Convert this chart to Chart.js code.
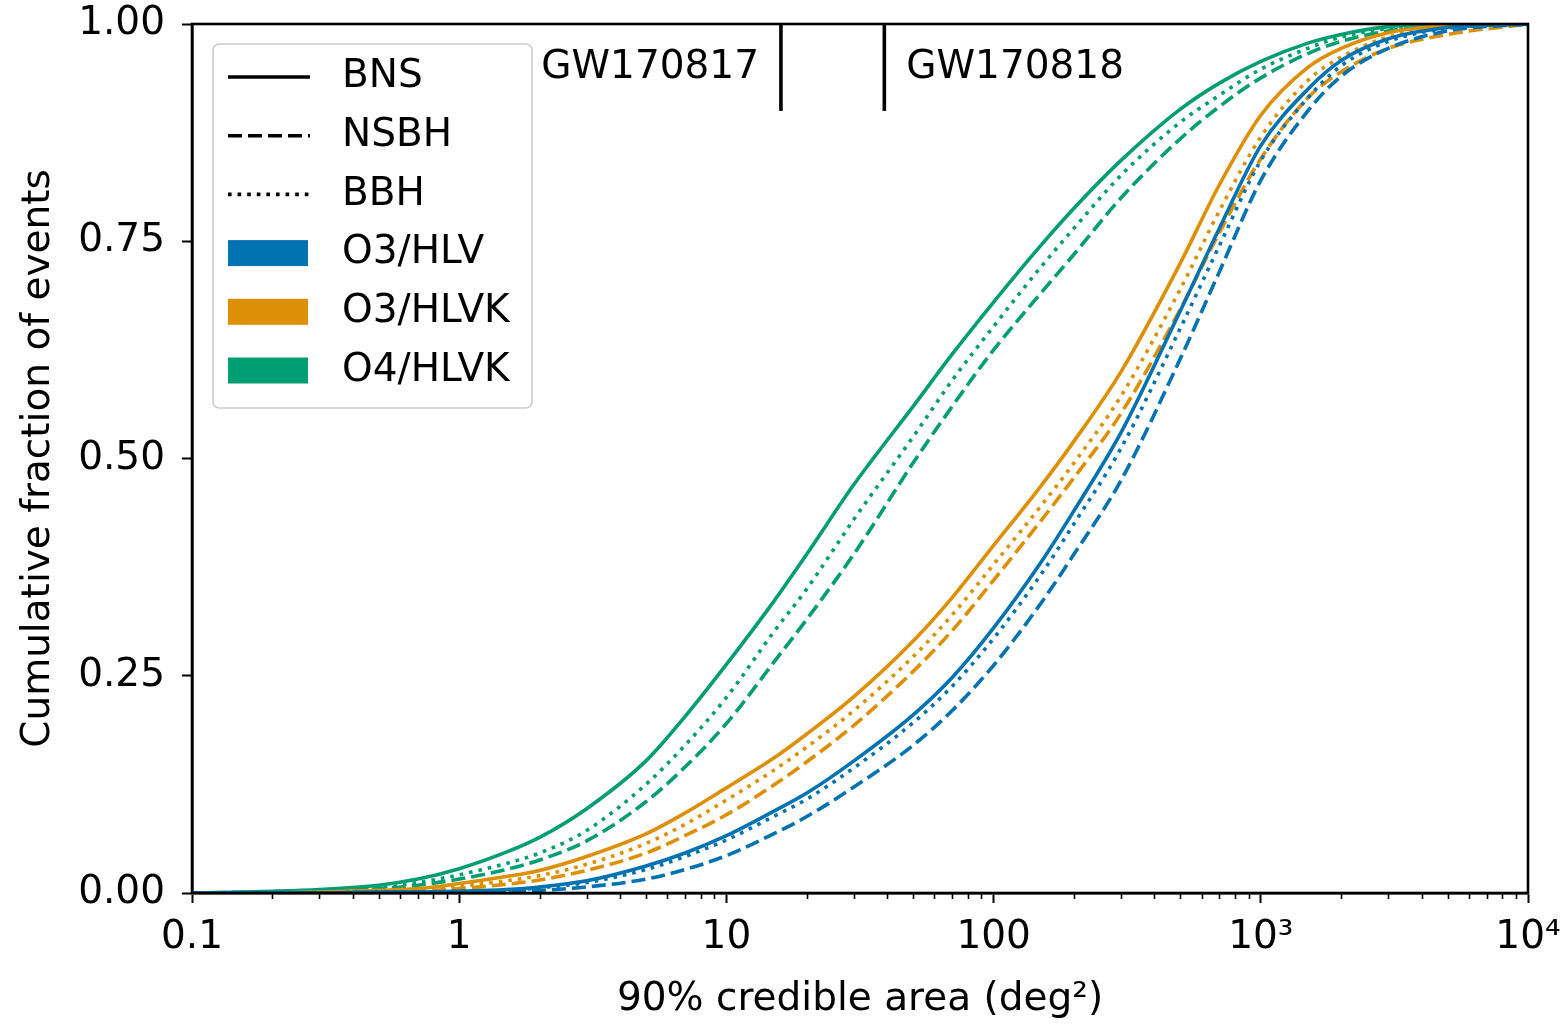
<!DOCTYPE html>
<html>
<head>
<meta charset="utf-8">
<script src="https://cdn.jsdelivr.net/npm/chart.js@4.4.1/dist/chart.umd.min.js"></script>
<style>
  html, body { margin: 0; padding: 0; background: #ffffff; }
  #wrap { width: 1562px; height: 1027px; }
</style>
</head>
<body>
<div id="wrap"><canvas id="c" width="1562" height="1027"></canvas></div>
<script>
// 90% credible area (deg²) sample points shared by every curve
const areas = [0.1, 0.2, 0.3, 0.5, 0.7, 1, 1.5, 2, 3, 5, 7, 10, 15, 20, 30, 50, 70, 100, 150, 200, 300, 500, 700, 1000, 1500, 2000, 3000, 5000, 10000];

// Cumulative fraction of events at each area
const o3hlvBNS   = [0, 0, 0, 0.001, 0.001, 0.002, 0.004, 0.007, 0.014, 0.031, 0.046, 0.066, 0.094, 0.115, 0.152, 0.205, 0.248, 0.305, 0.38, 0.44, 0.53, 0.67, 0.765, 0.86, 0.925, 0.958, 0.983, 0.996, 1];
const o3hlvNSBH  = [0, 0, 0, 0, 0.001, 0.001, 0.002, 0.003, 0.007, 0.016, 0.027, 0.043, 0.068, 0.088, 0.122, 0.17, 0.21, 0.262, 0.333, 0.39, 0.475, 0.615, 0.715, 0.82, 0.90, 0.94, 0.972, 0.992, 1];
const o3hlvBBH   = [0, 0, 0, 0.001, 0.001, 0.002, 0.003, 0.006, 0.012, 0.027, 0.042, 0.061, 0.088, 0.108, 0.144, 0.196, 0.238, 0.293, 0.366, 0.425, 0.512, 0.65, 0.745, 0.843, 0.915, 0.952, 0.98, 0.995, 1];

const o3hlvkBNS  = [0, 0, 0.001, 0.003, 0.005, 0.011, 0.019, 0.026, 0.042, 0.068, 0.092, 0.121, 0.155, 0.183, 0.226, 0.29, 0.34, 0.40, 0.468, 0.52, 0.60, 0.725, 0.815, 0.895, 0.95, 0.972, 0.99, 0.998, 1];
const o3hlvkNSBH = [0, 0, 0, 0.001, 0.002, 0.005, 0.01, 0.015, 0.026, 0.046, 0.066, 0.09, 0.124, 0.151, 0.193, 0.255, 0.302, 0.36, 0.428, 0.478, 0.552, 0.672, 0.76, 0.845, 0.915, 0.945, 0.972, 0.988, 1];
const o3hlvkBBH  = [0, 0, 0.001, 0.002, 0.004, 0.008, 0.014, 0.02, 0.033, 0.057, 0.079, 0.107, 0.141, 0.168, 0.21, 0.272, 0.32, 0.378, 0.445, 0.495, 0.572, 0.695, 0.785, 0.87, 0.935, 0.962, 0.985, 0.996, 1];

const o4hlvkBNS  = [0, 0.002, 0.004, 0.009, 0.016, 0.028, 0.047, 0.064, 0.097, 0.152, 0.203, 0.263, 0.335, 0.39, 0.47, 0.56, 0.62, 0.68, 0.745, 0.788, 0.843, 0.902, 0.932, 0.957, 0.978, 0.988, 0.997, 1, 1];
const o4hlvkNSBH = [0, 0.001, 0.002, 0.005, 0.009, 0.016, 0.027, 0.038, 0.06, 0.105, 0.145, 0.195, 0.265, 0.315, 0.39, 0.495, 0.56, 0.625, 0.69, 0.735, 0.80, 0.868, 0.905, 0.938, 0.966, 0.98, 0.992, 0.998, 1];
const o4hlvkBBH  = [0, 0.001, 0.003, 0.007, 0.012, 0.021, 0.034, 0.046, 0.072, 0.125, 0.17, 0.225, 0.30, 0.35, 0.43, 0.525, 0.59, 0.652, 0.72, 0.765, 0.826, 0.887, 0.918, 0.948, 0.972, 0.985, 0.995, 0.999, 1];

// Axis ticks
const xTickValues = [0.1, 1, 10, 100, 1000, 10000];
const xTickLabels = ['0.1', '1', '10', '100', '10³', '10⁴'];
const yTickValues = [0, 0.25, 0.5, 0.75, 1];

// Reference events
const eventNames = ['GW170817', 'GW170818'];
const eventAreas = [16, 39];
const eventSpan = [0.9, 1.0];

// Legend entries
const styleNames = ['BNS', 'NSBH', 'BBH'];
const networkNames = ['O3/HLV', 'O3/HLVK', 'O4/HLVK'];

const FONT = '"DejaVu Sans", "Liberation Sans", sans-serif';
const FS = 39;
const C_HLV = '#0173B2', C_HLVK = '#DE8F05', C_O4 = '#029E73';
const DASHES = { BNS: [], NSBH: [14, 6], BBH: [3.6, 6] };
const LW = 3.6;

function curve(fracs, color, kind) {
  return {
    data: areas.map((a, i) => ({ x: a, y: fracs[i] })),
    borderColor: color,
    borderWidth: LW,
    borderDash: DASHES[kind],
    borderCapStyle: 'butt',
    pointRadius: 0,
    fill: false,
    cubicInterpolationMode: 'monotone'
  };
}

const datasets = [
  curve(o3hlvNSBH, C_HLV, 'NSBH'),
  curve(o3hlvBBH, C_HLV, 'BBH'),
  curve(o3hlvBNS, C_HLV, 'BNS'),
  curve(o3hlvkNSBH, C_HLVK, 'NSBH'),
  curve(o3hlvkBBH, C_HLVK, 'BBH'),
  curve(o3hlvkBNS, C_HLVK, 'BNS'),
  curve(o4hlvkNSBH, C_O4, 'NSBH'),
  curve(o4hlvkBBH, C_O4, 'BBH'),
  curve(o4hlvkBNS, C_O4, 'BNS')
];

// Event markers: short vertical lines at the top of the axes
eventAreas.forEach(a => {
  datasets.push({
    data: [{ x: a, y: eventSpan[0] }, { x: a, y: eventSpan[1] }],
    borderColor: '#000000',
    borderWidth: 3.6,
    pointRadius: 0,
    fill: false,
    clip: false
  });
});

const decorations = {
  id: 'decorations',
  beforeDraw(chart) {
    const ctx = chart.ctx;
    ctx.save();
    ctx.fillStyle = '#ffffff';
    ctx.fillRect(0, 0, chart.width, chart.height);
    ctx.restore();
  },
  afterDraw(chart) {
    const ctx = chart.ctx;
    const area = chart.chartArea;
    const xs = chart.scales.x;
    const ys = chart.scales.y;
    ctx.save();

    // minor ticks on the log axis
    ctx.strokeStyle = '#000';
    ctx.lineWidth = 1.6;
    for (let e = -1; e < 4; e++) {
      for (let k = 2; k <= 9; k++) {
        const px = Math.round(xs.getPixelForValue(k * Math.pow(10, e))) + 0.5;
        ctx.beginPath();
        ctx.moveTo(px, area.bottom);
        ctx.lineTo(px, area.bottom + 6);
        ctx.stroke();
      }
    }

    // axes frame
    ctx.lineWidth = 2.6;
    ctx.strokeRect(area.left, area.top, area.right - area.left, area.bottom - area.top);

    // event labels
    ctx.fillStyle = '#000';
    ctx.font = FS + 'px ' + FONT;
    ctx.textBaseline = 'middle';
    const ly = ys.getPixelForValue(0.95);
    const x1 = xs.getPixelForValue(eventAreas[0]);
    const x2 = xs.getPixelForValue(eventAreas[1]);
    ctx.textAlign = 'right';
    ctx.fillText(eventNames[0], x1 - 22, ly);
    ctx.textAlign = 'left';
    ctx.fillText(eventNames[1], x2 + 22, ly);

    // legend
    const bx = area.left + 21, by = area.top + 20, bw = 319, bh = 364, r = 7;
    ctx.beginPath();
    ctx.moveTo(bx + r, by);
    ctx.lineTo(bx + bw - r, by);
    ctx.quadraticCurveTo(bx + bw, by, bx + bw, by + r);
    ctx.lineTo(bx + bw, by + bh - r);
    ctx.quadraticCurveTo(bx + bw, by + bh, bx + bw - r, by + bh);
    ctx.lineTo(bx + r, by + bh);
    ctx.quadraticCurveTo(bx, by + bh, bx, by + bh - r);
    ctx.lineTo(bx, by + r);
    ctx.quadraticCurveTo(bx, by, bx + r, by);
    ctx.closePath();
    ctx.fillStyle = 'rgba(255,255,255,0.8)';
    ctx.fill();
    ctx.strokeStyle = '#cccccc';
    ctx.lineWidth = 1.6;
    ctx.stroke();

    const hx0 = bx + 15, hx1 = bx + 97, tx = bx + 129;
    const row0 = by + 33, step = 58.7;
    const cols = [C_HLV, C_HLVK, C_O4];
    ctx.textAlign = 'left';
    ctx.textBaseline = 'middle';
    for (let i = 0; i < 6; i++) {
      const cy = row0 + i * step;
      if (i < 3) {
        ctx.strokeStyle = '#000';
        ctx.lineWidth = LW;
        ctx.lineCap = 'butt';
        ctx.setLineDash(DASHES[styleNames[i]]);
        ctx.beginPath();
        ctx.moveTo(hx0, cy);
        ctx.lineTo(hx1, cy);
        ctx.stroke();
        ctx.setLineDash([]);
        ctx.fillStyle = '#000';
        ctx.fillText(styleNames[i], tx, cy);
      } else {
        ctx.fillStyle = cols[i - 3];
        ctx.fillRect(hx0, cy - 13, hx1 - hx0 - 2, 26);
        ctx.fillStyle = '#000';
        ctx.fillText(networkNames[i - 3], tx, cy);
      }
    }
    ctx.restore();
  }
};

Chart.defaults.font.family = FONT;
Chart.defaults.color = '#000';

new Chart(document.getElementById('c'), {
  type: 'line',
  data: { datasets },
  options: {
    responsive: false,
    animation: false,
    devicePixelRatio: 1,
    layout: { padding: { left: 0, right: 34, top: 24, bottom: 0 } },
    plugins: { legend: { display: false }, tooltip: { enabled: false } },
    scales: {
      x: {
        type: 'logarithmic',
        min: 0.1,
        max: 10000,
        afterBuildTicks: s => { s.ticks = xTickValues.map(v => ({ value: v, major: true })); },
        afterFit: s => { s.height = 134; s.paddingLeft = 0; s.paddingRight = 0; },
        ticks: {
          autoSkip: false,
          maxRotation: 0,
          padding: 11,
          color: '#000',
          font: { size: FS, family: FONT },
          callback: (v, i) => xTickLabels[i]
        },
        grid: { drawOnChartArea: false, drawTicks: true, tickLength: 10, tickWidth: 2, tickColor: '#000' },
        border: { display: true, color: '#000', width: 2.6 },
        title: {
          display: true,
          text: '90% credible area (deg²)',
          color: '#000',
          font: { size: FS, family: FONT },
          padding: { top: 0, bottom: 4 }
        }
      },
      y: {
        type: 'linear',
        min: 0,
        max: 1,
        afterBuildTicks: s => { s.ticks = yTickValues.map(v => ({ value: v })); },
        afterFit: s => { s.width = 192; s.paddingTop = 0; s.paddingBottom = 0; },
        ticks: {
          padding: 17,
          color: '#000',
          font: { size: FS, family: FONT },
          callback: v => Number(v).toFixed(2)
        },
        grid: { drawOnChartArea: false, drawTicks: true, tickLength: 10, tickWidth: 2, tickColor: '#000' },
        border: { display: true, color: '#000', width: 2.6 },
        title: {
          display: true,
          text: 'Cumulative fraction of events',
          color: '#000',
          font: { size: FS, family: FONT },
          padding: { top: 15, bottom: 0 }
        }
      }
    }
  },
  plugins: [decorations]
});
</script>
</body>
</html>
